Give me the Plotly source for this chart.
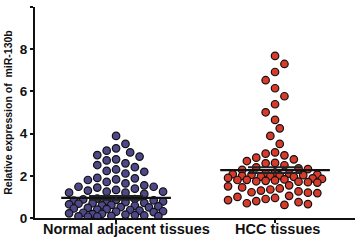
import plotly.graph_objects as go

# ---------------- data ----------------
categories = ["Normal adjacent tissues", "HCC tissues"]

normal_values = [
    3.89, 3.51, 3.30, 3.19, 3.11, 2.98, 2.91, 2.78, 2.73, 2.59, 2.51, 2.41,
    2.30, 2.23, 2.19, 2.11, 1.90, 1.88, 1.83, 1.80, 1.71, 1.64, 1.55, 1.48,
    1.48, 1.44, 1.39, 1.33, 1.30, 1.25, 1.25, 1.20, 1.20, 1.14,
    0.92, 0.90, 0.88, 0.86, 0.84, 0.82, 0.80, 0.78, 0.75, 0.72, 0.70, 0.68,
    0.65, 0.62, 0.60, 0.58, 0.55, 0.52, 0.50, 0.48, 0.45, 0.42, 0.40, 0.38,
    0.35, 0.32, 0.30, 0.28, 0.25, 0.22, 0.20, 0.18, 0.16, 0.14, 0.12, 0.10,
    0.09, 0.08, 0.07, 0.06,
]

hcc_values = [
    7.68, 7.30, 6.92, 6.53, 6.15, 5.77, 5.39, 5.01, 4.65, 4.25, 3.89, 3.51,
    3.11, 3.05, 2.97, 2.86, 2.78, 2.70, 2.61, 2.59, 2.50,
    2.40, 2.35, 2.32, 2.28,
    2.15, 2.12, 2.10, 2.08, 2.06, 2.05, 2.03, 2.02, 2.00, 1.98, 1.96, 1.95,
    1.90, 1.88, 1.85, 1.83, 1.81, 1.80, 1.78, 1.76, 1.74, 1.72, 1.70, 1.68,
    1.55, 1.50, 1.45, 1.40, 1.35, 1.30, 1.26, 1.22, 1.20, 1.18,
    1.05, 1.00, 0.95, 0.90, 0.85, 0.80, 0.75, 0.70, 0.66, 0.62,
]

center_line = [0.95, 2.27]   # horizontal line drawn over each group
sem_values = [0.09, 0.14]

y_ticks = [0, 2, 4, 6, 8, 10]

# ---------------- styling ----------------
colors = ["#4e4788", "#d83a2b"]
PX_PER_X = 159.0   # pixels per category unit
PX_PER_Y = 21.1    # pixels per y unit
DOT = 7.5
RX = 9.4           # horizontal spacing of dots (px)
RY = 9.6           # vertical collision radius (px)
STEP = RX / 2.0
MAXW = 50.0        # max half-width of a swarm (px)


def beeswarm(values):
    """Horizontal pixel offsets: avoid collisions within a limited width,
    otherwise take the least-overlapping slot."""
    order = sorted(range(len(values)), key=lambda i: -values[i])
    placed = []
    offsets = [0.0] * len(values)
    last_side = -1
    kmax = int(MAXW // STEP)
    for i in order:
        y = values[i] * PX_PER_Y
        pref = -last_side
        cands = [0.0]
        for k in range(1, kmax + 1):
            cands += [pref * k * STEP, -pref * k * STEP]
        best, best_score = None, -1.0
        for c in cands:
            score = 10.0
            for (px, py) in placed:
                d = ((px - c) / RX) ** 2 + ((py - y) / RY) ** 2
                if d < score:
                    score = d
            if score >= 0.999:
                best = c
                break
            if score > best_score + 1e-9:
                best, best_score = c, score
        offsets[i] = best
        placed.append((best, y))
        if best != 0:
            last_side = 1 if best > 0 else -1
    return offsets


fig = go.Figure()
groups = [normal_values, hcc_values]
for gi, vals in enumerate(groups):
    offs = beeswarm(vals)
    xs = [gi + 1 + o / PX_PER_X for o in offs]
    fig.add_trace(go.Scatter(
        x=xs, y=vals, mode="markers",
        marker=dict(size=DOT, color=colors[gi],
                    line=dict(color="#111111", width=1.2)),
        showlegend=False, hoverinfo="y",
    ))

half = 0.345
for gi in range(len(categories)):
    c = gi + 1
    fig.add_trace(go.Scatter(
        x=[c - half, c + half], y=[center_line[gi]] * 2, mode="lines",
        line=dict(color="#111111", width=2.2), showlegend=False, hoverinfo="skip",
    ))
    fig.add_trace(go.Scatter(
        x=[c], y=[center_line[gi]], mode="markers",
        marker=dict(size=1, color="rgba(0,0,0,0)"),
        error_y=dict(type="data", array=[sem_values[gi]], color="#222222",
                     thickness=2, width=27),
        showlegend=False, hoverinfo="skip",
    ))

font_main = "Liberation Sans, Arial, sans-serif"

for gi, cat in enumerate(categories):
    fig.add_annotation(
        x=gi + 1, y=0, xref="x", yref="paper", yanchor="top",
        text="<b>%s</b>" % cat, showarrow=False,
        xshift=10 if gi == 0 else 2, yshift=-1,
        font=dict(family=font_main, size=14.5, color="#111111"),
    )

fig.update_layout(
    width=358, height=240,
    margin=dict(l=35, r=3, t=7, b=22),
    paper_bgcolor="white", plot_bgcolor="white",
    xaxis=dict(range=[0.49, 2.503], showgrid=False, zeroline=False,
               showline=True, linecolor="#111111", linewidth=2,
               tickvals=[1, 2], ticktext=["", ""], ticks="outside",
               ticklen=3, tickwidth=2, tickcolor="#111111"),
    yaxis=dict(range=[0, 10], tickvals=y_ticks,
               ticktext=["<b>%d</b>" % t for t in y_ticks],
               showgrid=False, zeroline=False,
               showline=True, linecolor="#111111", linewidth=2,
               ticks="outside", ticklen=3, tickwidth=2, tickcolor="#111111",
               tickfont=dict(family=font_main, size=13.5, color="#111111"),
               title=dict(text="<b>Relative expression of  miR-130b</b>", standoff=5,
                          font=dict(family=font_main, size=10.5, color="#111111"))),
)

fig.write_html("out.html", config={"displayModeBar": False},
               post_script="document.body.style.margin='0';document.body.style.padding='0';")
